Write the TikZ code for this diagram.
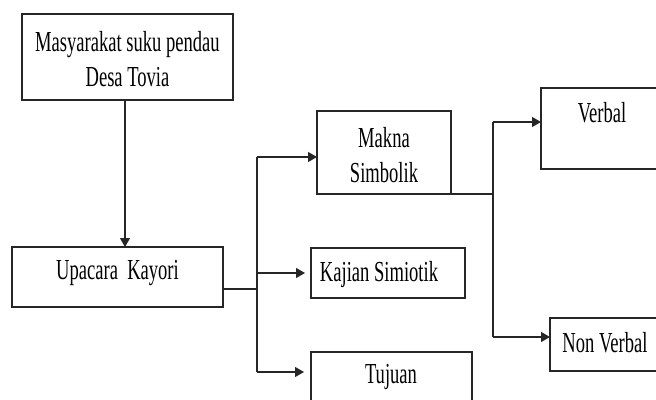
\documentclass[tikz,border=0pt]{standalone}
\usepackage{fontspec}
\setmainfont[FakeStretch=0.64]{Liberation Serif}
\usetikzlibrary{arrows.meta,calc}
\begin{document}
\begin{tikzpicture}[x=1pt,y=-1pt,
  box/.style={draw=black!85,line width=1.4pt,rectangle,inner sep=0pt,outer sep=0pt},
  txt/.style={font=\fontsize{29}{35}\selectfont,inner sep=0pt,align=center},
  conn/.style={draw=black!85,line width=1.2pt},
  arr/.style={conn,-{Triangle[length=9pt,width=10pt]}}]
\useasboundingbox (0,0) rectangle (656,399);
\clip (0,0) rectangle (656,399);
% boxes
\node[box,minimum width=211pt,minimum height=86pt] (m) at (127.5,57) {};
\node[txt] (mt) at (127.5,59.5) {Masyarakat suku pendau\\Desa Tovia};
\node[box,minimum width=211pt,minimum height=60pt] (u) at (117.5,277) {};
\node[txt] (ut) at (117.5,273) {Upacara\ \ Kayori};
\node[box,minimum width=134pt,minimum height=83pt] (mk) at (384,152.5) {};
\node[txt] (mkt) at (384,155) {Makna\\Simbolik};
\node[box,minimum width=154pt,minimum height=50pt] (kj) at (388,273) {};
\node[txt] (kjt) at (379,275) {Kajian Simiotik};
\node[box,minimum width=161pt,minimum height=80pt] (tj) at (391.5,392) {};
\node[txt] (tjt) at (391,377) {Tujuan};
\node[box,minimum width=140pt,minimum height=81pt] (vb) at (611,128.5) {};
\node[txt] (vbt) at (602,113) {Verbal};
\node[box,minimum width=120pt,minimum height=53pt] (nv) at (610,344.5) {};
\node[txt] (nvt) at (605,343) {Non Verbal};
% junctions
\coordinate (j1) at (257,157);
\coordinate (j2) at (257,273);
\coordinate (j3) at (257,372);
\coordinate (ju) at (257,289);
\coordinate (k1) at (493,122);
\coordinate (k2) at (493,194);
\coordinate (k3) at (493,337);
% connectors
\draw[arr] ([xshift=-2.5pt]m.south) -- ([xshift=7.5pt]u.north);
\draw[conn] (u.east |- ju) -- (ju);
\draw[conn] (j1) -- (j3);
\draw[arr] (j1) -- (mk.west |- j1);
\draw[arr] (j2) -- ([xshift=-6pt]kj.west |- j2);
\draw[arr] (j3) -- ([xshift=-7pt]tj.west |- j3);
\draw[conn] (mk.south east) -- (k2);
\draw[conn] (k1) -- (k3);
\draw[arr] (k1) -- (vb.west |- k1);
\draw[arr] (k3) -- (nv.west |- k3);
\end{tikzpicture}
\end{document}
